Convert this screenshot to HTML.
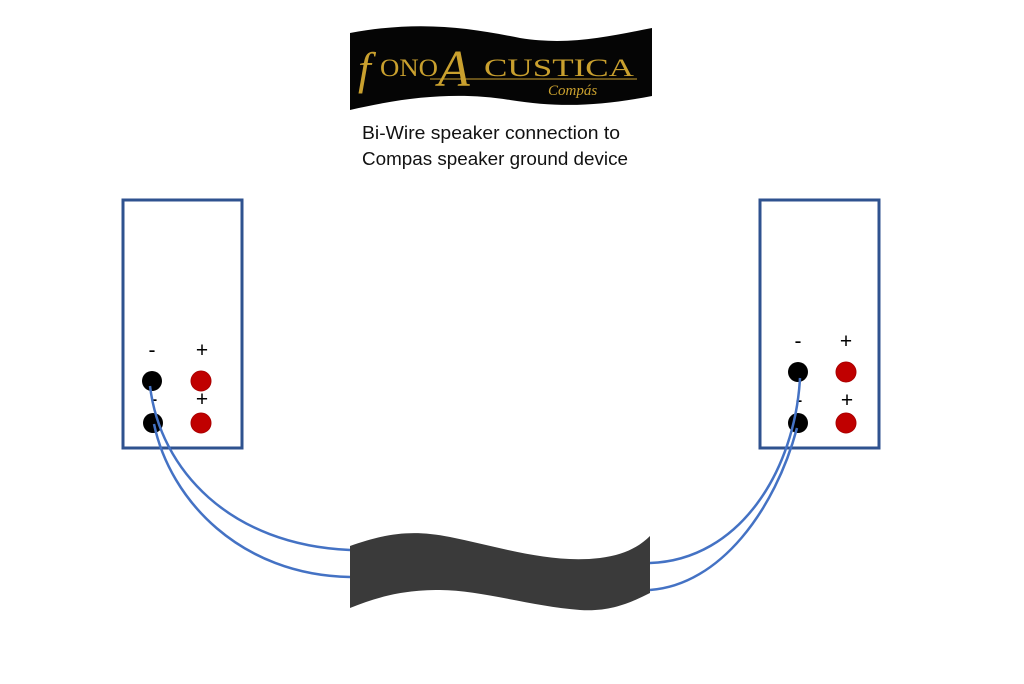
<!DOCTYPE html>
<html><head><meta charset="utf-8"><style>
html,body{margin:0;padding:0;background:#fff;width:1024px;height:684px;overflow:hidden}
</style></head><body>
<svg width="1024" height="684" viewBox="0 0 1024 684" xmlns="http://www.w3.org/2000/svg">
<path d="M350,33 C420,20 470,28 520,38 C570,46 610,36 652,28 L652,96 C600,106 560,108 510,100 C460,92 410,96 350,110 Z" fill="#050505"/>
<text x="358" y="84" font-family="Liberation Serif, serif" font-style="italic" font-size="46" fill="#c9a02e">f</text>
<text x="380" y="76" font-family="Liberation Serif, serif" font-size="25" fill="#c9a02e" textLength="58" lengthAdjust="spacingAndGlyphs">ONO</text>
<text x="438" y="86" font-family="Liberation Serif, serif" font-style="italic" font-size="52" fill="#c9a02e">A</text>
<text x="484" y="76" font-family="Liberation Serif, serif" font-size="25" fill="#c9a02e" textLength="150" lengthAdjust="spacingAndGlyphs">CUSTICA</text>
<line x1="430" y1="79" x2="637" y2="79" stroke="#c9a02e" stroke-width="1"/>
<text x="548" y="95" font-family="Liberation Serif, serif" font-style="italic" font-size="15" fill="#c9a02e">Compás</text>
<text x="362" y="139" font-family="Liberation Sans, sans-serif" font-size="18.5" fill="#111" textLength="258" lengthAdjust="spacingAndGlyphs">Bi-Wire speaker connection to</text>
<text x="362" y="165" font-family="Liberation Sans, sans-serif" font-size="18.5" fill="#111" textLength="266" lengthAdjust="spacingAndGlyphs">Compas speaker ground device</text>
<rect x="123" y="200" width="119" height="248" fill="none" stroke="#2f528f" stroke-width="3"/>
<rect x="760" y="200" width="119" height="248" fill="none" stroke="#2f528f" stroke-width="3"/>
<g font-family="Liberation Sans, sans-serif" font-size="21" fill="#000" text-anchor="middle">
<text x="152" y="357">-</text><text x="202" y="357">+</text>
<text x="154" y="406">-</text><text x="202" y="406">+</text>
<text x="798" y="348">-</text><text x="846" y="348">+</text>
<text x="799" y="407">-</text><text x="847" y="407">+</text>
</g>
<circle cx="152" cy="381" r="10" fill="#000"/><circle cx="201" cy="381" r="10" fill="#c00000" stroke="#a00" stroke-width="1"/>
<circle cx="153" cy="423" r="10" fill="#000"/><circle cx="201" cy="423" r="10" fill="#c00000" stroke="#a00" stroke-width="1"/>
<circle cx="798" cy="372" r="10" fill="#000"/><circle cx="846" cy="372" r="10" fill="#c00000" stroke="#a00" stroke-width="1"/>
<circle cx="798" cy="423" r="10" fill="#000"/><circle cx="846" cy="423" r="10" fill="#c00000" stroke="#a00" stroke-width="1"/>
<path d="M350,546 C385,534 410,529 450,537 C500,547 550,564 600,558 C625,555 640,546 650,536 L650,593 C630,603 610,612 580,610 C530,606 480,590 440,590 C400,590 375,598 350,608 Z" fill="#3a3a3a"/>
<g fill="none" stroke="#4472c4" stroke-width="2.5">
<path d="M150,386 C160,470 230,545 350,550"/>
<path d="M154,424 C170,500 240,575 350,577"/>
<path d="M800,378 C795,470 740,560 650,563"/>
<path d="M797,428 C775,510 720,585 650,590"/>
</g>
</svg>
</body></html>
